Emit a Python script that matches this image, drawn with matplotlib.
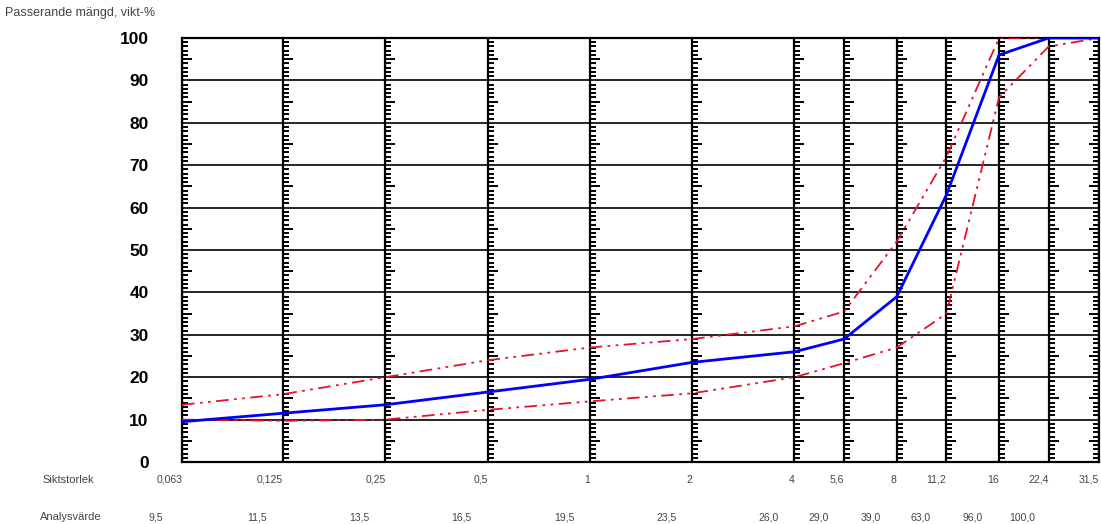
import matplotlib.pyplot as plt
import matplotlib.transforms as mtransforms
import numpy as np

plt.rcParams['font.family'] = ['Liberation Sans', 'DejaVu Sans']

# sieve sizes (mm) and passing percentages
sieves = [0.063, 0.125, 0.25, 0.5, 1, 2, 4, 5.6, 8, 11.2, 16, 22.4, 31.5]
sieve_labels = ["0,063", "0,125", "0,25", "0,5", "1", "2", "4", "5,6", "8", "11,2", "16", "22,4", "31,5"]
analysis = [9.5, 11.5, 13.5, 16.5, 19.5, 23.5, 26.0, 29.0, 39.0, 63.0, 96.0, 100.0, 100.0]
analysis_labels = ["9,5", "11,5", "13,5", "16,5", "19,5", "23,5", "26,0", "29,0", "39,0", "63,0", "96,0", "100,0"]
upper_limit = [13.5, 16, 20, 24, 27, 29, 32, 35.5, 52, 72, 100, 100, 100]
lower_limit = [10, 9.7, 10, 12.3, 14.3, 16.2, 20, 23.3, 27, 35, 86, 98, 100]

W, H = 1101, 524
fig = plt.figure(figsize=(W / 100, H / 100), dpi=100)
ax = fig.add_axes([182 / W, 1 - 462 / H, (1099 - 182) / W, (462 - 38) / H])
ax.set_xscale("log")
ax.set_xlim(sieves[0], sieves[-1])
ax.set_ylim(0, 100)
ax.tick_params(axis="x", which="both", length=0, labelbottom=False)
ax.set_yticks(range(0, 101, 10))
ax.tick_params(axis="y", length=0, pad=24, labelsize=12.5)
for lbl in ax.get_yticklabels():
    lbl.set_fontweight("bold")
ax.yaxis.grid(True, color="black", lw=1.2)
for sp in ax.spines.values():
    sp.set_linewidth(1.6)

for s in sieves:
    ax.axvline(s, color="black", lw=1.6, zorder=2)

# ruler ticks along each vertical line
ppo = (1099 - 182) / np.log2(sieves[-1] / sieves[0])
small = [v for v in range(1, 100) if v % 5 != 0]
mid = [v for v in range(5, 100, 10)]
for s in sieves[:-1]:
    ax.hlines(small, s, s * 2 ** (6 / ppo), color="black", lw=1.4, zorder=2)
    ax.hlines(mid, s, s * 2 ** (10 / ppo), color="black", lw=1.4, zorder=2)
s = sieves[-1]
ax.hlines(small, s * 2 ** (-6 / ppo), s, color="black", lw=1.4, zorder=2)
ax.hlines(mid, s * 2 ** (-10 / ppo), s, color="black", lw=1.4, zorder=2)

dashdot = (0, (7, 3, 1.5, 3, 1.5, 3))
ax.plot(sieves, upper_limit, color="#e8102a", lw=1.3, ls=dashdot, zorder=3)
ax.plot(sieves, lower_limit, color="#e8102a", lw=1.3, ls=dashdot, zorder=3)
ax.plot(sieves, analysis, color="#0000ff", lw=2.0, zorder=4)

fig.text(5 / W, 1 - 13 / H, "Passerande mängd, vikt-%", fontsize=9, color="#444444", va="center")
fig.text(42 / W, 1 - 480 / H, "Siktstorlek", fontsize=8, color="#444444", va="center")
fig.text(40 / W, 1 - 517 / H, "Analysvärde", fontsize=8, color="#444444", va="center")

trans = mtransforms.blended_transform_factory(ax.transData, fig.transFigure)
row1 = mtransforms.offset_copy(trans, fig=fig, x=0, y=0, units="dots")
row2 = mtransforms.offset_copy(trans, fig=fig, x=-26, y=0, units="dots")
for s, t in zip(sieves, sieve_labels):
    ax.text(s, 1 - 480 / H, t, transform=row1, fontsize=7.5, color="#444444",
            ha="right", va="center", clip_on=False)
for s, t in zip(sieves, analysis_labels):
    ax.text(s, 1 - 517 / H, t, transform=row2, fontsize=7.5, color="#444444",
            ha="center", va="center", clip_on=False)

fig.savefig("out.png", dpi=100)
